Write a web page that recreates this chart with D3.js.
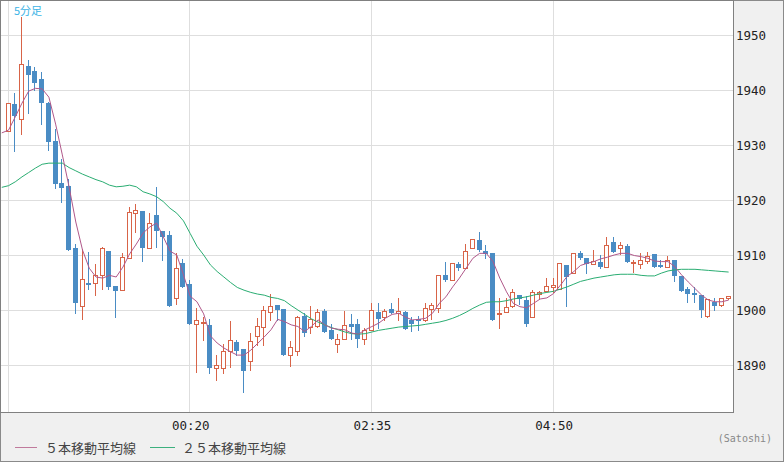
<!DOCTYPE html>
<html>
<head>
<meta charset="utf-8">
<script src="https://cdn.jsdelivr.net/npm/d3@7"></script>
<style>
  body { margin: 0; background: #f0f0f0; }
  svg { display: block; }
</style>
</head>
<body>
<svg id="chart" width="784" height="462"></svg>
<script>
// 5-minute candles (index 0 = first visible candle)
const opens = [
  1932.5, 1937.5, 1934.7, 1944.4, 1943.5, 1942.0, 1937.7, 1930.7, 1923.1, 1922.5,
  1911.3, 1900.7, 1905.0, 1905.0, 1906.4, 1910.7, 1904.4, 1903.6, 1909.4, 1917.6,
  1918.0, 1911.3, 1917.3, 1914.4, 1913.6, 1902.1, 1908.5, 1904.7, 1897.5, 1897.6,
  1897.3, 1889.4, 1889.4, 1892.6, 1894.1, 1892.9, 1890.8, 1895.2, 1897.0, 1899.7,
  1900.9, 1900.2, 1891.9, 1892.6, 1898.9, 1897.0, 1897.1, 1899.8, 1896.4, 1893.8,
  1894.7, 1897.5, 1897.5, 1894.8, 1896.4, 1899.6, 1898.7, 1900.2, 1899.5, 1899.6,
  1898.2, 1898.4, 1898.2, 1900.1, 1900.4, 1906.4, 1905.5, 1908.4, 1907.7, 1911.2,
  1912.7, 1910.7, 1910.4, 1899.2, 1899.7, 1900.8, 1902.7, 1901.8, 1898.8, 1902.9,
  1903.5, 1904.2, 1903.8, 1908.1, 1906.7, 1910.3, 1909.4, 1908.3, 1908.8, 1907.9,
  1912.4, 1911.2, 1911.7, 1908.6, 1908.3, 1908.9, 1910.1, 1908.1, 1907.9, 1909.1,
  1906.1, 1903.8, 1903.1, 1902.7, 1899.0, 1901.4, 1901.0, 1902.1
];
const highs = [
  1937.6, 1939.4, 1953.2, 1945.5, 1944.1, 1943.3, 1937.9, 1933.0, 1927.5, 1923.8,
  1912.0, 1911.1, 1910.5, 1908.3, 1911.4, 1910.7, 1904.4, 1910.3, 1918.8, 1919.3,
  1918.0, 1917.7, 1922.4, 1914.4, 1914.4, 1910.3, 1909.3, 1905.5, 1900.3, 1898.8,
  1898.3, 1891.8, 1893.9, 1898.0, 1894.6, 1892.9, 1895.8, 1898.5, 1900.7, 1902.9,
  1900.9, 1900.2, 1894.4, 1899.0, 1899.4, 1900.7, 1900.1, 1900.1, 1897.5, 1895.6,
  1899.8, 1899.3, 1898.4, 1896.7, 1901.3, 1901.3, 1900.1, 1901.3, 1902.1, 1899.9,
  1898.8, 1899.0, 1901.2, 1901.2, 1906.4, 1908.8, 1908.6, 1908.8, 1912.0, 1912.9,
  1914.2, 1911.8, 1910.4, 1902.2, 1902.1, 1903.8, 1902.8, 1902.5, 1903.6, 1903.5,
  1905.9, 1905.8, 1908.5, 1908.2, 1910.3, 1910.7, 1909.4, 1910.9, 1910.0, 1913.2,
  1913.2, 1912.4, 1912.0, 1909.1, 1910.3, 1910.5, 1910.1, 1909.1, 1909.9, 1909.1,
  1906.1, 1904.2, 1904.2, 1902.7, 1902.0, 1902.1, 1902.2, 1902.5
];
const lows = [
  1932.5, 1929.0, 1932.0, 1935.9, 1940.0, 1933.9, 1929.1, 1922.2, 1919.7, 1911.0,
  1899.5, 1898.3, 1903.9, 1902.7, 1903.9, 1903.8, 1898.7, 1903.6, 1909.4, 1914.1,
  1909.0, 1911.3, 1911.5, 1909.1, 1900.8, 1901.1, 1904.2, 1897.5, 1888.8, 1894.5,
  1888.6, 1887.3, 1888.6, 1889.7, 1891.8, 1885.1, 1889.1, 1893.6, 1893.6, 1898.2,
  1898.2, 1891.9, 1889.8, 1891.8, 1895.2, 1895.9, 1896.9, 1896.0, 1894.8, 1892.4,
  1894.7, 1894.7, 1893.3, 1893.8, 1896.4, 1896.7, 1898.2, 1899.4, 1898.2, 1896.5,
  1896.2, 1896.4, 1898.0, 1898.3, 1899.7, 1905.3, 1905.5, 1907.3, 1907.7, 1911.2,
  1910.7, 1909.4, 1898.1, 1896.7, 1899.7, 1900.6, 1901.1, 1897.1, 1898.8, 1902.0,
  1903.5, 1903.3, 1903.8, 1900.8, 1906.7, 1909.2, 1906.7, 1908.3, 1907.6, 1907.9,
  1910.5, 1910.2, 1908.8, 1907.0, 1907.7, 1908.5, 1907.9, 1907.9, 1907.9, 1905.3,
  1903.5, 1901.4, 1901.4, 1898.8, 1898.8, 1900.0, 1900.8, 1902.0
];
const closes = [
  1937.6, 1935.2, 1944.7, 1942.7, 1941.3, 1937.7, 1930.6, 1922.9, 1922.2, 1911.0,
  1901.3, 1905.6, 1904.7, 1906.3, 1911.3, 1904.2, 1903.5, 1909.6, 1917.9, 1918.2,
  1911.2, 1915.9, 1914.4, 1913.3, 1900.8, 1907.6, 1904.2, 1897.5, 1898.2, 1897.8,
  1889.4, 1890.0, 1892.5, 1894.5, 1892.6, 1889.0, 1894.4, 1897.1, 1900.0, 1900.7,
  1900.0, 1891.9, 1893.2, 1898.8, 1895.8, 1898.3, 1899.6, 1896.0, 1894.8, 1894.7,
  1897.2, 1897.0, 1894.8, 1896.3, 1900.0, 1898.3, 1899.8, 1899.4, 1899.9, 1896.5,
  1897.5, 1898.1, 1900.3, 1900.9, 1906.4, 1905.5, 1908.5, 1907.7, 1910.7, 1912.9,
  1910.9, 1910.2, 1898.1, 1899.5, 1900.5, 1903.3, 1902.0, 1897.5, 1903.2, 1903.3,
  1904.4, 1904.5, 1908.5, 1906.0, 1910.3, 1909.4, 1908.3, 1908.9, 1907.9, 1911.9,
  1910.5, 1911.8, 1908.8, 1908.7, 1909.1, 1909.9, 1907.9, 1907.9, 1909.1, 1906.1,
  1903.5, 1902.9, 1902.8, 1900.0, 1902.0, 1900.8, 1902.1, 1902.5
];

// moving averages as drawn, starting one candle before the first visible one
const ma5 = [
  1932.2, 1932.7, 1935.1, 1937.6, 1939.8, 1940.3, 1940.2, 1938.7, 1933.8, 1928.2,
  1922.4, 1916.0, 1910.9, 1907.6, 1906.0, 1905.8, 1906.3, 1906.0, 1907.8, 1910.2,
  1912.0, 1914.0, 1915.1, 1915.8, 1913.3, 1910.7, 1910.0, 1906.4, 1902.5, 1901.5,
  1899.3, 1895.3, 1894.0, 1893.1, 1892.4, 1891.8, 1891.8, 1892.7, 1893.9, 1895.1,
  1896.4, 1898.3, 1897.9, 1897.3, 1897.0, 1896.1, 1897.0, 1898.2, 1897.3, 1896.7,
  1896.5, 1896.4, 1895.8, 1895.6, 1896.4, 1897.0, 1897.6, 1898.5, 1899.2, 1899.4,
  1898.7, 1898.2, 1898.3, 1898.5, 1899.4, 1901.2, 1902.4, 1904.2, 1905.8, 1907.6,
  1909.4, 1910.3, 1910.3, 1908.8, 1905.8, 1903.3, 1901.2, 1900.6, 1900.4, 1901.2,
  1902.0, 1902.2, 1903.0, 1904.5, 1906.1, 1907.0, 1908.1, 1908.5, 1908.8, 1909.3,
  1909.6, 1910.0, 1910.3, 1910.3, 1909.9, 1909.7, 1909.4, 1908.9, 1908.8, 1908.8,
  1907.9, 1906.4, 1905.1, 1903.9, 1902.7, 1901.8, 1901.5, 1901.5, 1901.8
];
const ma25 = [
  1922.3, 1922.6, 1923.3, 1924.2, 1925.0, 1925.8, 1926.5, 1926.7, 1926.7, 1926.7,
  1925.9, 1925.3, 1924.7, 1924.2, 1923.7, 1923.3, 1922.7, 1922.4, 1922.5, 1922.7,
  1922.4, 1921.5, 1921.1, 1920.6, 1919.7, 1918.5, 1917.6, 1916.2, 1913.9, 1911.6,
  1910.0, 1908.2, 1907.0, 1906.0, 1905.0, 1904.1, 1903.6, 1903.2, 1902.9, 1902.7,
  1902.3, 1902.1, 1901.7, 1900.8, 1900.0, 1899.2, 1898.4, 1897.8, 1897.3, 1896.8,
  1896.4, 1896.0, 1895.7, 1895.6, 1895.7, 1896.0, 1896.3, 1896.5, 1896.7, 1896.9,
  1897.0, 1897.1, 1897.2, 1897.4, 1897.6, 1897.8, 1898.1, 1898.5, 1899.0, 1899.6,
  1900.3, 1900.9, 1901.4, 1901.5, 1901.5, 1901.7, 1902.0, 1902.2, 1902.4, 1902.7,
  1903.0, 1903.2, 1903.4, 1903.8, 1904.2, 1904.7, 1905.2, 1905.5, 1905.8, 1906.0,
  1906.2, 1906.4, 1906.5, 1906.5, 1906.5, 1906.3, 1906.2, 1906.2, 1906.7, 1907.1,
  1907.3, 1907.4, 1907.4, 1907.4, 1907.3, 1907.2, 1907.1, 1907.0, 1906.9
];

const gridIdx = [0, 27, 54, 81];
const timeIdx = [27, 54, 81];
const timeLabels = ['00:20', '02:35', '04:50'];
const priceTicks = [1890, 1900, 1910, 1920, 1930, 1940, 1950];

const UP = '#d86448', DOWN = '#4a8cc4';
const MA5_C = '#b0588a', MA25_C = '#2aad72';
const MONO = '"DejaVu Sans Mono", "Liberation Mono", monospace';
const JP = '"Noto Sans CJK JP", sans-serif';

const W = 733, H = 412;
const svg = d3.select('#chart');

const x = d3.scaleLinear().domain([0, 1]).range([8.5, 8.5 + 6.73]);
const y = d3.scaleLinear().domain([1900, 1950]).range([310, 35]);

// frame + plot background
svg.append('rect').attr('x', 0.5).attr('y', 0.5).attr('width', 783).attr('height', 461)
  .attr('fill', '#f0f0f0').attr('stroke', '#8a8a8a');
svg.append('rect').attr('x', 0.5).attr('y', 0.5).attr('width', W).attr('height', H)
  .attr('fill', '#fff');

svg.append('clipPath').attr('id', 'plot-clip')
  .append('rect').attr('x', 1).attr('y', 1).attr('width', W - 1).attr('height', H - 1);

// grid
const grid = svg.append('g').attr('stroke', '#dedede').attr('stroke-width', 1);
grid.selectAll('.hg').data(priceTicks).join('line')
  .attr('x1', 0).attr('x2', W)
  .attr('y1', d => Math.round(y(d)) + 0.5).attr('y2', d => Math.round(y(d)) + 0.5);
grid.selectAll('.vg').data(gridIdx).join('line')
  .attr('y1', 0).attr('y2', H)
  .attr('x1', d => Math.floor(x(d) - 0.5) + 0.5).attr('x2', d => Math.floor(x(d) - 0.5) + 0.5);

const plot = svg.append('g').attr('clip-path', 'url(#plot-clip)');

// candles
const idx = d3.range(opens.length);
const candle = plot.append('g').selectAll('g').data(idx).join('g');
candle.each(function(i) {
  const g = d3.select(this);
  const up = closes[i] >= opens[i];
  const col = up ? UP : DOWN;
  const left = Math.floor(x(i) - 2.5);
  const top = Math.round(y(Math.max(opens[i], closes[i])));
  const bot = Math.round(y(Math.min(opens[i], closes[i])));
  g.append('line')
    .attr('x1', left + 2.5).attr('x2', left + 2.5)
    .attr('y1', Math.round(y(highs[i]))).attr('y2', Math.round(y(lows[i])) + 1)
    .attr('stroke', col).attr('stroke-width', 1);
  if (up) {
    g.append('rect').attr('x', left + 0.5).attr('y', top + 0.5)
      .attr('width', 4).attr('height', Math.max(bot - top, 1))
      .attr('fill', '#fff').attr('stroke', col).attr('stroke-width', 1);
  } else {
    g.append('rect').attr('x', left).attr('y', top)
      .attr('width', 5).attr('height', Math.max(bot - top, 2))
      .attr('fill', col);
  }
});

// moving averages
const maLine = d3.line().x((d, k) => x(k - 1)).y(d => y(d));
plot.append('path').datum(ma25)
  .attr('fill', 'none').attr('stroke', MA25_C).attr('stroke-width', 1).attr('d', maLine);
plot.append('path').datum(ma5)
  .attr('fill', 'none').attr('stroke', MA5_C).attr('stroke-width', 1).attr('d', maLine);

// border on top
svg.append('rect').attr('x', 0.5).attr('y', 0.5).attr('width', W).attr('height', H)
  .attr('fill', 'none').attr('stroke', '#808080');

// right price axis
const yAxis = svg.append('g').attr('transform', `translate(${W},0.5)`)
  .call(d3.axisRight(y).tickValues(priceTicks).tickSize(0).tickPadding(3).tickFormat(d3.format('d')));
yAxis.select('.domain').remove();
yAxis.selectAll('text').attr('font-family', MONO).attr('font-size', 12.5).attr('fill', '#222');

// time axis
const xAxis = svg.append('g').attr('transform', `translate(0,${H})`)
  .call(d3.axisBottom(x).tickValues(timeIdx).tickSize(0).tickPadding(9)
    .tickFormat((d, k) => timeLabels[k]));
xAxis.select('.domain').remove();
xAxis.selectAll('text').attr('font-family', MONO).attr('font-size', 12.5).attr('fill', '#222');

// timeframe tag
svg.append('text').attr('x', 14).attr('y', 10).attr('dominant-baseline', 'central')
  .attr('font-family', JP).attr('font-size', 11).attr('fill', '#3cb4e6').text('5分足');

// legend
const legend = [
  { x: 15, w: 22, tx: 45, c: '#c07a9c', label: '５本移動平均線' },
  { x: 150, w: 25, tx: 182, c: '#3cb07e', label: '２５本移動平均線' }
];
const lg = svg.append('g').selectAll('g').data(legend).join('g');
lg.append('line').attr('x1', d => d.x).attr('x2', d => d.x + d.w)
  .attr('y1', 447.5).attr('y2', 447.5).attr('stroke', d => d.c);
lg.append('text').attr('x', d => d.tx).attr('y', 447.5).attr('dominant-baseline', 'central')
  .attr('font-family', JP).attr('font-size', 13).attr('fill', '#444').text(d => d.label);

svg.append('text').attr('x', 772).attr('y', 438).attr('text-anchor', 'end')
  .attr('dominant-baseline', 'central').attr('font-family', MONO).attr('font-size', 10)
  .attr('fill', '#888').text('(Satoshi)');
</script>
</body>
</html>
